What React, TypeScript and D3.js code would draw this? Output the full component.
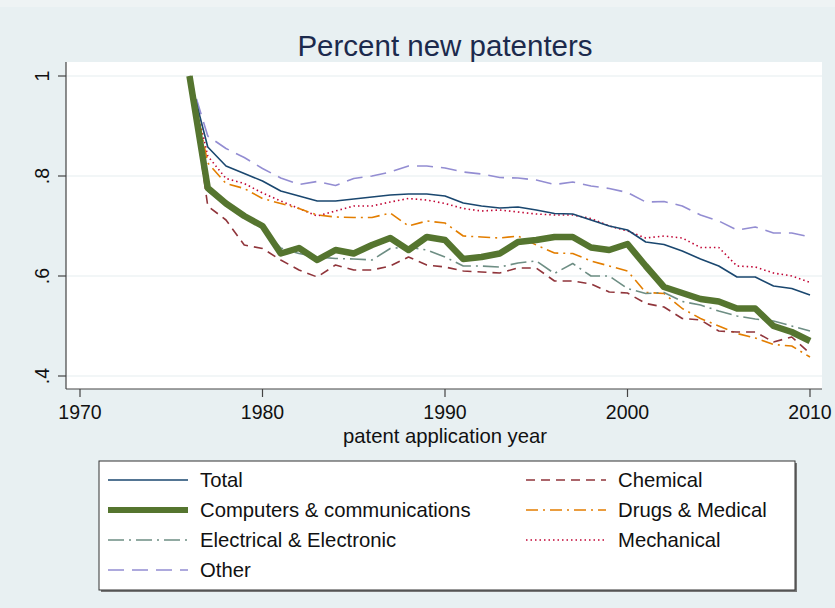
import React from "react";
import * as d3 from "d3";

const years = d3.range(1976, 2011);
const xTicks = [1970, 1980, 1990, 2000, 2010];
const yTicks = [0.4, 0.6, 0.8, 1];
const yTickLabels = [".4", ".6", ".8", "1"];

const total = [1.0, 0.858, 0.82, 0.805, 0.79, 0.77, 0.76, 0.75, 0.75, 0.754, 0.758, 0.762, 0.764, 0.764, 0.76, 0.746, 0.74, 0.736, 0.738, 0.732, 0.725, 0.724, 0.712, 0.7, 0.692, 0.668, 0.663, 0.65, 0.634, 0.62, 0.598, 0.598, 0.58, 0.575, 0.562];
const computers = [1.0, 0.776, 0.745, 0.72, 0.7, 0.645, 0.656, 0.632, 0.652, 0.645, 0.662, 0.676, 0.652, 0.678, 0.672, 0.634, 0.638, 0.645, 0.668, 0.672, 0.678, 0.678, 0.657, 0.652, 0.664, 0.62, 0.578, 0.566, 0.554, 0.549, 0.535, 0.535, 0.5, 0.488, 0.47];
const electrical = [1.0, 0.77, 0.742, 0.72, 0.695, 0.656, 0.645, 0.638, 0.635, 0.634, 0.632, 0.655, 0.658, 0.652, 0.638, 0.62, 0.62, 0.618, 0.626, 0.63, 0.605, 0.625, 0.6, 0.6, 0.575, 0.565, 0.567, 0.549, 0.542, 0.53, 0.52, 0.514, 0.51, 0.5, 0.49];
const other = [1.0, 0.88, 0.855, 0.837, 0.815, 0.796, 0.783, 0.789, 0.781, 0.795, 0.8, 0.808, 0.82, 0.82, 0.816, 0.808, 0.804, 0.797, 0.796, 0.792, 0.783, 0.788, 0.78, 0.775, 0.767, 0.748, 0.749, 0.74, 0.722, 0.71, 0.692, 0.698, 0.686, 0.686, 0.678];
const chemical = [1.0, 0.74, 0.712, 0.662, 0.655, 0.632, 0.612, 0.598, 0.622, 0.612, 0.612, 0.62, 0.638, 0.622, 0.618, 0.61, 0.608, 0.606, 0.616, 0.616, 0.59, 0.59, 0.584, 0.568, 0.566, 0.545, 0.538, 0.515, 0.512, 0.49, 0.488, 0.488, 0.468, 0.478, 0.445];
const drugs = [1.0, 0.826, 0.785, 0.775, 0.755, 0.745, 0.735, 0.722, 0.718, 0.717, 0.717, 0.726, 0.7, 0.71, 0.706, 0.68, 0.678, 0.676, 0.68, 0.662, 0.646, 0.645, 0.63, 0.62, 0.61, 0.567, 0.565, 0.535, 0.515, 0.5, 0.485, 0.476, 0.463, 0.46, 0.438];
const mechanical = [1.0, 0.84, 0.795, 0.785, 0.766, 0.75, 0.735, 0.72, 0.73, 0.74, 0.74, 0.748, 0.755, 0.752, 0.745, 0.735, 0.73, 0.732, 0.728, 0.724, 0.722, 0.722, 0.715, 0.7, 0.69, 0.676, 0.68, 0.676, 0.657, 0.657, 0.62, 0.618, 0.606, 0.6, 0.587];

const FONT = "'Liberation Sans', Arial, Helvetica, sans-serif";

type S = { name: string; values: number[]; color: string; width: number; dash: string };
const series: S[] = [
  { name: "Other", values: other, color: "#938dd2", width: 1.6, dash: "16 8" },
  { name: "Mechanical", values: mechanical, color: "#c10534", width: 1.6, dash: "1.5 3" },
  { name: "Total", values: total, color: "#1a476f", width: 1.6, dash: "" },
  { name: "Drugs & Medical", values: drugs, color: "#e37e00", width: 1.6, dash: "12 5 2 5" },
  { name: "Electrical & Electronic", values: electrical, color: "#6e8e84", width: 1.6, dash: "16 5 2 5" },
  { name: "Chemical", values: chemical, color: "#90353b", width: 1.6, dash: "9 6" },
  { name: "Computers & communications", values: computers, color: "#55752f", width: 6.5, dash: "" },
];

const legendLeft = ["Total", "Computers & communications", "Electrical & Electronic", "Other"];
const legendRight = ["Chemical", "Drugs & Medical", "Mechanical"];

export default function App() {
  const W = 835, H = 608;
  const x = d3.scaleLinear().domain([1970, 2010]).range([80, 810]);
  const y = d3.scaleLinear().domain([0.4, 1]).range([376, 76]);
  const line = d3.line<number>().x((_, i) => x(years[i])).y((d) => y(d));
  const byName = (n: string) => series.find((s) => s.name === n)!;
  const rowY = [480, 510, 540, 570];

  const legendItem = (name: string, lx: number, tx: number, ly: number) => {
    const s = byName(name);
    return (
      <g key={name}>
        <line x1={lx} x2={lx + 80} y1={ly} y2={ly} stroke={s.color} strokeWidth={s.width > 3 ? 6 : 1.6} strokeDasharray={s.dash} />
        <text x={tx} y={ly + 7} fontSize={20.3} fill="#111" fontFamily={FONT}>{name}</text>
      </g>
    );
  };

  return (
    <svg width={W} height={H} style={{ position: "absolute", left: 0, top: 0 }}>
      <rect x={0} y={0} width={W} height={H} fill="#e8f0f2" />
      <rect x={0} y={0} width={W} height={7} fill="#eef3f4" />
      <text x={445} y={56} textAnchor="middle" fontSize={29.5} fill="#1c2a4d" fontFamily={FONT}>Percent new patenters</text>
      <rect x={66} y={62} width={756} height={327} fill="#ffffff" />
      {yTicks.map((t) => (
        <line key={"g" + t} x1={66} x2={822} y1={y(t)} y2={y(t)} stroke="#e6eef0" strokeWidth={1.2} />
      ))}
      {series.map((s) => (
        <path key={s.name} d={line(s.values) || ""} fill="none" stroke={s.color} strokeWidth={s.width} strokeDasharray={s.dash} strokeLinejoin="round" />
      ))}
      <line x1={66} x2={66} y1={62} y2={389} stroke="#444" strokeWidth={1.2} />
      <line x1={66} x2={822} y1={389} y2={389} stroke="#444" strokeWidth={1.2} />
      {yTicks.map((t, i) => (
        <g key={"y" + t}>
          <line x1={58} x2={66} y1={y(t)} y2={y(t)} stroke="#444" strokeWidth={1.2} />
          <text transform={`translate(49,${y(t)}) rotate(-90)`} textAnchor="middle" fontSize={19.5} fill="#111" fontFamily={FONT}>{yTickLabels[i]}</text>
        </g>
      ))}
      {xTicks.map((t) => (
        <g key={"x" + t}>
          <line x1={x(t)} x2={x(t)} y1={389} y2={397} stroke="#444" strokeWidth={1.2} />
          <text x={x(t)} y={418.5} textAnchor="middle" fontSize={19.5} fill="#111" fontFamily={FONT}>{t}</text>
        </g>
      ))}
      <text x={445} y={443} textAnchor="middle" fontSize={20.3} fill="#111" fontFamily={FONT}>patent application year</text>
      <rect x={101} y={463} width={696} height={129} fill="#777" />
      <rect x={99} y={461} width={696} height={129} fill="#ffffff" stroke="#333" strokeWidth={1} />
      {legendLeft.map((n, i) => legendItem(n, 108, 200, rowY[i]))}
      {legendRight.map((n, i) => legendItem(n, 526, 618, rowY[i]))}
    </svg>
  );
}
